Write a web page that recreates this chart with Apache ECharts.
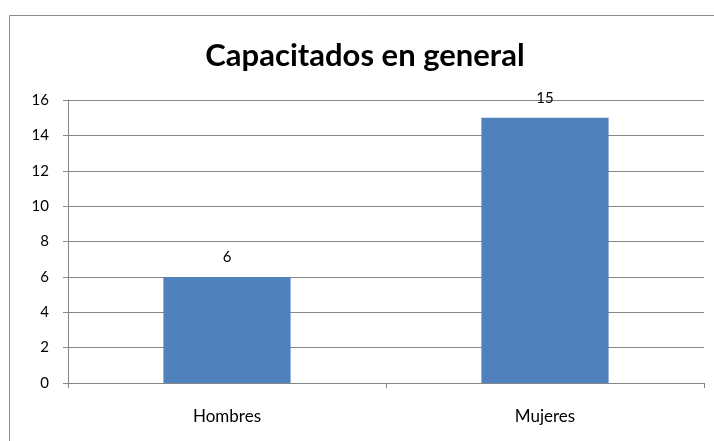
<!DOCTYPE html>
<html>
<head>
<meta charset="utf-8">
<script src="https://cdn.jsdelivr.net/npm/echarts@6/dist/echarts.min.js"></script>
<style>
    html, body { margin: 0; padding: 0; background: #fff; }
    #chart { width: 714px; height: 441px; }
</style>
</head>
<body>
<div id="chart"></div>
<script>
var categories = ['Hombres', 'Mujeres'];
var values = [6, 15];
var yTicks = [0, 2, 4, 6, 8, 10, 12, 14, 16];

var chart = echarts.init(document.getElementById('chart'));
chart.setOption({
    animation: false,
    textStyle: { fontFamily: 'Lato' },
    graphic: [{
        type: 'rect',
        shape: { x: 9.5, y: 15.5, width: 720, height: 440 },
        style: { fill: 'none', stroke: '#8c8c8c', lineWidth: 1 }
    }],
    title: {
        text: 'Capacitados en general',
        left: 360,
        top: 35,
        textAlign: 'center',
        textStyle: { fontSize: 31, fontWeight: 'bold', color: '#000', fontFamily: 'Lato' }
    },
    grid: { left: 68, right: 10, top: 100, bottom: 58 },
    xAxis: {
        type: 'category',
        data: categories,
        axisLine: { lineStyle: { color: '#868686' } },
        axisTick: { show: true, length: 5, lineStyle: { color: '#868686' } },
        axisLabel: { color: '#000', fontSize: 17, margin: 25 }
    },
    yAxis: {
        type: 'value',
        min: yTicks[0],
        max: yTicks[yTicks.length - 1],
        interval: 2,
        axisLine: { show: true, lineStyle: { color: '#868686' } },
        axisTick: { show: true, length: 5, lineStyle: { color: '#868686' } },
        splitLine: { lineStyle: { color: '#868686' } },
        axisLabel: { color: '#000', fontSize: 15, margin: 19 }
    },
    series: [{
        type: 'bar',
        data: values,
        barWidth: '40%',
        itemStyle: { color: '#4f81bd' },
        label: { show: true, position: 'top', distance: 12, color: '#000', fontSize: 15 }
    }]
});
</script>
</body>
</html>
